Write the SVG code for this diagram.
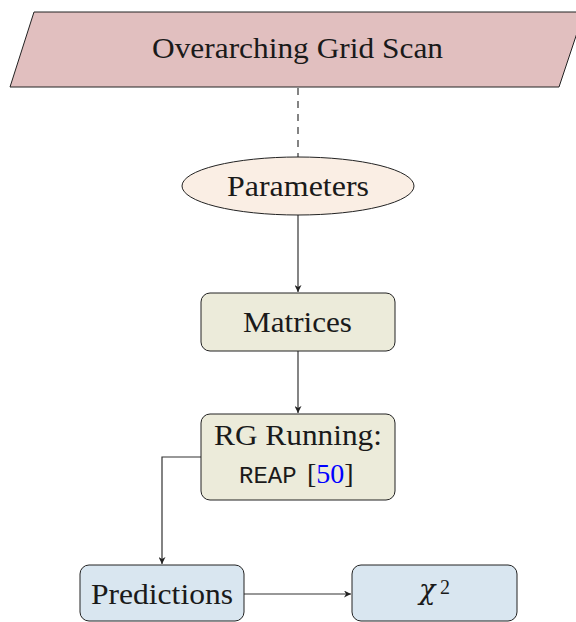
<svg xmlns="http://www.w3.org/2000/svg" width="576" height="622" viewBox="0 0 576 622">
<style>
.s{font-family:"Liberation Serif","DejaVu Serif",serif;font-size:30px;fill:#1a1a1a}
.m{font-family:"Liberation Mono","Nimbus Mono PS","FreeMono","Courier New",Courier,monospace;font-size:24px}
.n{stroke:#222;stroke-width:1}
.c{stroke:#333;stroke-width:1.2;fill:none}
</style>
<defs>
<marker id="ah" viewBox="0 0 10 10" refX="10" refY="5" markerWidth="7" markerHeight="7" markerUnits="userSpaceOnUse" orient="auto">
<path d="M0,0 L10,5 L0,10 L3,5 z" fill="#222"/>
</marker>
</defs>
<rect width="576" height="622" fill="#fff"/>
<g id="connectors">
<line class="c" x1="298" y1="88" x2="298" y2="157" stroke-dasharray="7,6"/>
<line class="c" x1="298" y1="215" x2="298" y2="292" marker-end="url(#ah)"/>
<line class="c" x1="298" y1="351" x2="298" y2="413" marker-end="url(#ah)"/>
<polyline class="c" points="201,457 162,457 162,564" marker-end="url(#ah)"/>
<line class="c" x1="244" y1="594" x2="351" y2="594" marker-end="url(#ah)"/>
</g>
<g id="grid-scan">
<polygon class="n" points="34,12 584,12 559,87 10,87" fill="#e1bfbf"/>
<text class="s" x="152" y="57.5" textLength="291" lengthAdjust="spacingAndGlyphs">Overarching Grid Scan</text>
</g>
<g id="parameters">
<ellipse class="n" cx="298" cy="186" rx="116" ry="29" fill="#faeee4"/>
<text class="s" x="227" y="196" textLength="142" lengthAdjust="spacingAndGlyphs">Parameters</text>
</g>
<g id="matrices">
<rect class="n" x="201" y="293" width="194" height="58" rx="9" fill="#ecebda"/>
<text class="s" x="243" y="332" textLength="109" lengthAdjust="spacingAndGlyphs">Matrices</text>
</g>
<g id="rg-running">
<rect class="n" x="201" y="414" width="194" height="86" rx="9" fill="#ecebda"/>
<text class="s" x="214" y="445" textLength="168" lengthAdjust="spacingAndGlyphs">RG Running:</text>
<text class="s" x="239" y="483"><tspan class="m">REAP</tspan><tspan x="307" style="font-size:28px">[<tspan fill="#0000ff">50</tspan>]</tspan></text>
</g>
<g id="predictions">
<rect class="n" x="80" y="565" width="164" height="56" rx="9" fill="#d9e6f0"/>
<text class="s" x="91" y="604" textLength="142" lengthAdjust="spacingAndGlyphs">Predictions</text>
</g>
<g id="chi2">
<rect class="n" x="352" y="565" width="165" height="56" rx="9" fill="#d9e6f0"/>
<text class="s" x="419" y="599"><tspan style="font-family:'DejaVu Serif',serif;font-style:italic;font-size:27px">χ</tspan><tspan x="440" y="594" style="font-size:20px">2</tspan></text>
</g>
</svg>
